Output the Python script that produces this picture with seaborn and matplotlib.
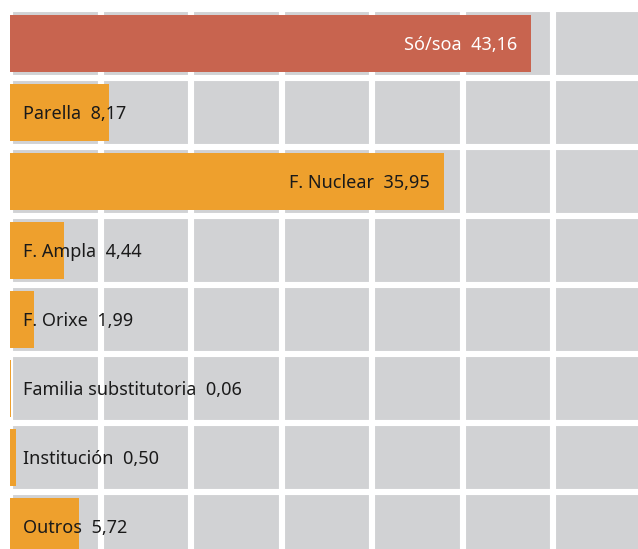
import numpy as np
import seaborn as sns
import matplotlib.pyplot as plt

# ── Data ───────────────────────────────────────────────────────────
categories = ['Só/soa', 'Parella', 'F. Nuclear', 'F. Ampla', 'F. Orixe',
              'Familia substitutoria', 'Institución', 'Outros']
values = [43.16, 8.17, 35.95, 4.44, 1.99, 0.06, 0.50, 5.72]
value_labels = ['43,16', '8,17', '35,95', '4,44', '1,99', '0,06', '0,50', '5,72']
bar_colors = ['#c8644f', '#eea02d', '#eea02d', '#eea02d', '#eea02d',
              '#eea02d', '#eea02d', '#eea02d']

GREY = '#d1d2d4'

sns.set_style('darkgrid', {'axes.facecolor': GREY, 'grid.color': 'white',
                           'axes.edgecolor': 'white'})
plt.rcParams['font.family'] = ['Noto Sans', 'DejaVu Sans']

W, H = 638, 549
fig = plt.figure(figsize=(W / 100, H / 100), dpi=100)
# axes from pixel x=7 to right edge, y=6 to bottom edge
ax = fig.add_axes([7 / W, 0, 1 - 7 / W, (H - 6) / H])

sns.barplot(x=values, y=categories, hue=categories, palette=bar_colors,
            orient='h', width=0.83, legend=False, saturation=1,
            linewidth=0, edgecolor='none', ax=ax)

# grid: columns every 7.5 units, rows on the category boundaries
ax.set_xticks(np.arange(0, 52, 7.5))
ax.set_yticks(np.arange(-0.5, 8, 1))

px_per_unit = (W - 10) / 52.0
ax.set_xlim(-3 / px_per_unit, 52)
ax.set_ylim(7.5 - 12 / 69, -0.5 - 3 / 69)

ax.grid(True, linewidth=4.4, color='white')
ax.set_axisbelow(True)
ax.tick_params(left=False, bottom=False, labelleft=False, labelbottom=False)
ax.set_xlabel('')
ax.set_ylabel('')
for s in ax.spines.values():
    s.set_visible(False)

# labels: inside the bar end for the big ones, at the left otherwise
for i, (cat, val, lab) in enumerate(zip(categories, values, value_labels)):
    text = f'{cat}  {lab}'
    if val > 30:
        color = 'white' if i == 0 else '#1a1a1a'
        ax.text(val - 14 / px_per_unit, i + 0.02, text, ha='right', va='center',
                fontsize=13, color=color)
    else:
        ax.text(13 / px_per_unit, i + 0.02, text, ha='left', va='center',
                fontsize=13, color='#1a1a1a')

plt.savefig('out.png', dpi=100)
plt.close()
